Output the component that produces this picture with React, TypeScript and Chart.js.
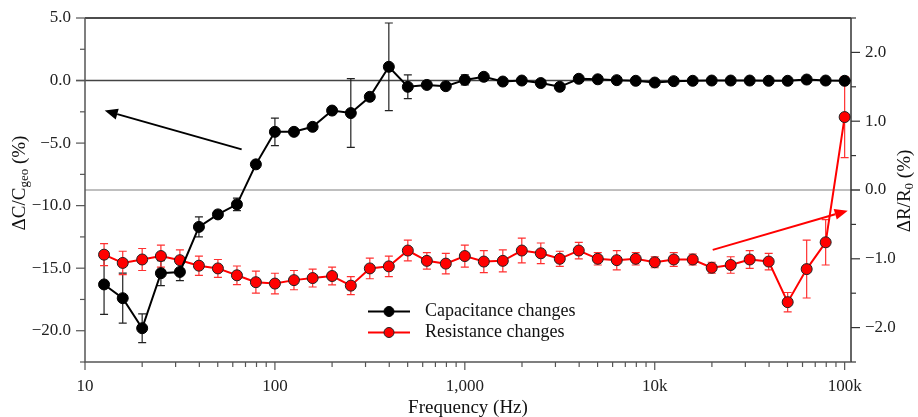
import React, { useEffect, useRef } from 'react';
import { Chart, registerables } from 'chart.js';

Chart.register(...registerables);

const frequencies = [12.6, 15.8, 20, 25.1, 31.6, 39.8, 50.1, 63.1, 79.4, 100, 126, 158, 200, 251, 316, 398, 501, 631, 794, 1000, 1259, 1585, 1995, 2512, 3162, 3981, 5012, 6310, 7943, 10000, 12589, 15849, 19953, 25119, 31623, 39811, 50119, 63096, 79433, 100000];

const capValues = [-16.3, -17.4, -19.8, -15.4, -15.3, -11.7, -10.7, -9.9, -6.7, -4.1, -4.1, -3.7, -2.4, -2.6, -1.3, 1.1, -0.5, -0.35, -0.45, 0.05, 0.3, -0.08, 0.0, -0.2, -0.5, 0.14, 0.1, 0.03, -0.02, -0.16, -0.05, -0.02, 0.0, 0.0, 0.0, -0.02, -0.02, 0.08, 0.0, -0.02];
const capErrors = [2.4, 2.0, 1.15, 1.0, 0.7, 0.8, 0.3, 0.5, 0.2, 1.1, 0.2, 0.2, 0.2, 2.75, 0.2, 3.5, 0.95, 0.2, 0.2, 0.4, 0.15, 0.15, 0.15, 0.15, 0.15, 0.15, 0.15, 0.15, 0.15, 0.15, 0.15, 0.15, 0.15, 0.15, 0.15, 0.15, 0.15, 0.15, 0.15, 0.15];

const resValues = [-0.94, -1.06, -1.01, -0.96, -1.02, -1.10, -1.14, -1.24, -1.34, -1.36, -1.31, -1.28, -1.25, -1.39, -1.14, -1.11, -0.88, -1.03, -1.07, -0.96, -1.04, -1.03, -0.88, -0.92, -1.0, -0.88, -1.0, -1.02, -1.0, -1.05, -1.01, -1.01, -1.13, -1.09, -1.01, -1.04, -1.63, -1.15, -0.76, 1.06];
const resErrors = [0.16, 0.17, 0.16, 0.16, 0.15, 0.14, 0.13, 0.135, 0.16, 0.15, 0.14, 0.13, 0.13, 0.13, 0.15, 0.15, 0.15, 0.12, 0.15, 0.16, 0.16, 0.16, 0.18, 0.15, 0.11, 0.12, 0.09, 0.14, 0.09, 0.08, 0.1, 0.08, 0.08, 0.12, 0.13, 0.12, 0.14, 0.42, 0.33, 0.59];

const xTickValues = [10, 100, 1000, 10000, 100000];
const xTickLabels = ['10', '100', '1,000', '10k', '100k'];
const seriesNames = ['Capacitance changes', 'Resistance changes'];

// annotation arrows, in data units
const capArrow = { from: [66.8, -5.5], to: [12.7, -2.4] };
const resArrow = { from: [20200, -0.87], to: [103800, -0.3] };

const FONT = "'Liberation Serif', 'Times New Roman', serif";

function drawArrow(ctx: CanvasRenderingContext2D, x1: number, y1: number, x2: number, y2: number, color: string) {
  const ang = Math.atan2(y2 - y1, x2 - x1);
  const hl = 13, hw = 5.5;
  const bx = x2 - hl * Math.cos(ang), by = y2 - hl * Math.sin(ang);
  ctx.save();
  ctx.strokeStyle = color;
  ctx.fillStyle = color;
  ctx.lineWidth = 2;
  ctx.beginPath();
  ctx.moveTo(x1, y1);
  ctx.lineTo(bx, by);
  ctx.stroke();
  ctx.beginPath();
  ctx.moveTo(x2, y2);
  ctx.lineTo(bx + hw * Math.sin(ang), by - hw * Math.cos(ang));
  ctx.lineTo(bx - hw * Math.sin(ang), by + hw * Math.cos(ang));
  ctx.closePath();
  ctx.fill();
  ctx.restore();
}

function drawRotatedTitle(ctx: CanvasRenderingContext2D, cx: number, cy: number, parts: { t: string; sub?: boolean }[]) {
  const mainFont = `19px ${FONT}`;
  const subFont = `13px ${FONT}`;
  ctx.save();
  ctx.translate(cx, cy);
  ctx.rotate(-Math.PI / 2);
  let total = 0;
  for (const p of parts) {
    ctx.font = p.sub ? subFont : mainFont;
    total += ctx.measureText(p.t).width;
  }
  let x = -total / 2;
  ctx.fillStyle = '#111';
  ctx.textBaseline = 'middle';
  ctx.textAlign = 'left';
  for (const p of parts) {
    ctx.font = p.sub ? subFont : mainFont;
    ctx.fillText(p.t, x, p.sub ? 5 : 0);
    x += ctx.measureText(p.t).width;
  }
  ctx.restore();
}

const decorPlugin = {
  id: 'decor',
  beforeDatasetsDraw(chart: any) {
    const { ctx, chartArea: a, scales } = chart;
    const xs = scales.x, yl = scales.y, yr = scales.y1;
    ctx.save();
    // zero lines
    const y0l = yl.getPixelForValue(0);
    ctx.strokeStyle = '#444';
    ctx.lineWidth = 1.5;
    ctx.beginPath();
    ctx.moveTo(a.left - 9, y0l);
    ctx.lineTo(a.right, y0l);
    ctx.stroke();
    const y0r = yr.getPixelForValue(0);
    ctx.strokeStyle = '#aaa';
    ctx.beginPath();
    ctx.moveTo(a.left, y0r);
    ctx.lineTo(a.right + 9, y0r);
    ctx.stroke();

    // frame
    ctx.lineWidth = 1.5;
    ctx.strokeStyle = '#111';
    ctx.beginPath();
    ctx.moveTo(a.left, a.top);
    ctx.lineTo(a.right, a.top);
    ctx.stroke();
    ctx.strokeStyle = '#333';
    ctx.beginPath();
    ctx.moveTo(a.right, a.top);
    ctx.lineTo(a.right, a.bottom);
    ctx.stroke();
    ctx.strokeStyle = '#555';
    ctx.beginPath();
    ctx.moveTo(a.left, a.top);
    ctx.lineTo(a.left, a.bottom);
    ctx.lineTo(a.right, a.bottom);
    ctx.stroke();

    // left ticks
    ctx.lineWidth = 1.2;
    ctx.strokeStyle = '#555';
    for (let v = -22.5; v <= 5.001; v += 2.5) {
      const y = yl.getPixelForValue(v);
      const major = Math.abs(v / 5 - Math.round(v / 5)) < 1e-6;
      ctx.beginPath();
      ctx.moveTo(a.left, y);
      ctx.lineTo(a.left - (major ? 9 : 5), y);
      ctx.stroke();
    }
    // right ticks
    ctx.strokeStyle = '#333';
    for (let v = -2.5; v <= 2.501; v += 0.5) {
      const y = yr.getPixelForValue(v);
      const major = Math.abs(v - Math.round(v)) < 1e-6;
      ctx.beginPath();
      ctx.moveTo(a.right, y);
      ctx.lineTo(a.right + (major ? 9 : 5), y);
      ctx.stroke();
    }
    // bottom ticks
    ctx.strokeStyle = '#555';
    for (let d = 10; d <= 100000; d *= 10) {
      for (let m = 1; m <= 9; m++) {
        const v = d * m;
        if (v > 100000) break;
        const x = xs.getPixelForValue(v);
        ctx.beginPath();
        ctx.moveTo(x, a.bottom);
        ctx.lineTo(x, a.bottom + (m === 1 ? 8 : 5));
        ctx.stroke();
      }
    }

    // error bars
    const bars = [
      { vals: capValues, errs: capErrors, scale: yl, color: '#222' },
      { vals: resValues, errs: resErrors, scale: yr, color: '#ff3030' },
    ];
    for (const b of bars) {
      ctx.strokeStyle = b.color;
      ctx.lineWidth = 1.2;
      frequencies.forEach((f, i) => {
        const x = xs.getPixelForValue(f);
        const yt = b.scale.getPixelForValue(b.vals[i] + b.errs[i]);
        const yb = b.scale.getPixelForValue(b.vals[i] - b.errs[i]);
        ctx.beginPath();
        ctx.moveTo(x, yt);
        ctx.lineTo(x, yb);
        ctx.moveTo(x - 4, yt);
        ctx.lineTo(x + 4, yt);
        ctx.moveTo(x - 4, yb);
        ctx.lineTo(x + 4, yb);
        ctx.stroke();
      });
    }
    ctx.restore();
  },
  afterDraw(chart: any) {
    const { ctx, chartArea: a, scales } = chart;
    const xs = scales.x, yl = scales.y, yr = scales.y1;

    // arrows
    drawArrow(ctx, xs.getPixelForValue(capArrow.from[0]), yl.getPixelForValue(capArrow.from[1]),
      xs.getPixelForValue(capArrow.to[0]), yl.getPixelForValue(capArrow.to[1]), '#000');
    drawArrow(ctx, xs.getPixelForValue(resArrow.from[0]), yr.getPixelForValue(resArrow.from[1]),
      xs.getPixelForValue(resArrow.to[0]), yr.getPixelForValue(resArrow.to[1]), '#ff0000');

    // titles
    ctx.save();
    ctx.fillStyle = '#111';
    ctx.font = `19px ${FONT}`;
    ctx.textAlign = 'center';
    ctx.textBaseline = 'middle';
    ctx.fillText('Frequency (Hz)', (a.left + a.right) / 2, 408);
    ctx.restore();
    drawRotatedTitle(ctx, 20, 183, [{ t: '\u0394C/C' }, { t: 'geo', sub: true }, { t: ' (%)' }]);
    drawRotatedTitle(ctx, 905, 191, [{ t: '\u0394R/R' }, { t: '0', sub: true }, { t: ' (%)' }]);

    // legend
    const rows = [
      { name: seriesNames[0], line: '#000', fill: '#000', border: '#000', y: 311.5 },
      { name: seriesNames[1], line: '#ff0000', fill: '#ff0000', border: '#222', y: 332.5 },
    ];
    ctx.save();
    for (const r of rows) {
      ctx.strokeStyle = r.line;
      ctx.lineWidth = 2;
      ctx.beginPath();
      ctx.moveTo(368, r.y);
      ctx.lineTo(410, r.y);
      ctx.stroke();
      ctx.beginPath();
      ctx.arc(389, r.y, 5, 0, Math.PI * 2);
      ctx.fillStyle = r.fill;
      ctx.fill();
      ctx.strokeStyle = r.border;
      ctx.lineWidth = 1;
      ctx.stroke();
      ctx.fillStyle = '#111';
      ctx.font = `18px ${FONT}`;
      ctx.textAlign = 'left';
      ctx.textBaseline = 'middle';
      ctx.fillText(r.name, 425, r.y);
    }
    ctx.restore();
  },
};

export default function App() {
  const ref = useRef<HTMLCanvasElement | null>(null);
  useEffect(() => {
    if (!ref.current) return;
    const tickFont = { family: FONT, size: 17 };
    const chart = new Chart(ref.current, {
      type: 'line',
      data: {
        datasets: [
          {
            label: seriesNames[0],
            data: frequencies.map((f, i) => ({ x: f, y: capValues[i] })),
            yAxisID: 'y',
            borderColor: '#000',
            borderWidth: 2,
            pointRadius: 5.5,
            pointBackgroundColor: '#000',
            pointBorderColor: '#000',
            pointBorderWidth: 1,
            tension: 0,
          },
          {
            label: seriesNames[1],
            data: frequencies.map((f, i) => ({ x: f, y: resValues[i] })),
            yAxisID: 'y1',
            borderColor: '#ff0000',
            borderWidth: 2,
            pointRadius: 5.5,
            pointBackgroundColor: '#ff0000',
            pointBorderColor: '#222',
            pointBorderWidth: 1,
            tension: 0,
          },
        ],
      },
      options: {
        responsive: false,
        animation: false,
        layout: { padding: { top: 18, left: 0, right: 0, bottom: 0 } },
        plugins: { legend: { display: false }, tooltip: { enabled: false } },
        scales: {
          x: {
            type: 'logarithmic',
            position: 'bottom',
            min: 10,
            max: 108000,
            border: { display: false },
            grid: { display: true, drawOnChartArea: false, color: 'transparent', tickLength: 8 },
            afterBuildTicks: (s: any) => {
              s.ticks = xTickValues.map((v) => ({ value: v }));
            },
            afterFit: (s: any) => {
              s.height = 55;
            },
            ticks: {
              autoSkip: false,
              maxRotation: 0,
              minRotation: 0,
              padding: 6,
              color: '#222',
              font: tickFont,
              callback: (v: any) => {
                const i = xTickValues.indexOf(Number(v));
                return i >= 0 ? xTickLabels[i] : '';
              },
            },
          },
          y: {
            position: 'left',
            min: -22.5,
            max: 5,
            border: { display: false },
            grid: { display: true, drawOnChartArea: false, color: 'transparent', tickLength: 9 },
            afterFit: (s: any) => {
              s.width = 85;
            },
            ticks: {
              stepSize: 2.5,
              padding: 5,
              color: '#222',
              font: tickFont,
              callback: (v: any) => {
                const n = Number(v);
                if (Math.abs(n / 5 - Math.round(n / 5)) > 1e-6) return '';
                return n.toFixed(1).replace('-', '\u2212');
              },
            },
          },
          y1: {
            position: 'right',
            min: -2.5,
            max: 2.5,
            border: { display: false },
            grid: { display: true, drawOnChartArea: false, color: 'transparent', tickLength: 9 },
            afterFit: (s: any) => {
              s.width = 67;
            },
            ticks: {
              stepSize: 0.5,
              padding: 5,
              color: '#222',
              font: tickFont,
              callback: (v: any) => {
                const n = Number(v);
                if (Math.abs(n - Math.round(n)) > 1e-6) return '';
                return n.toFixed(1).replace('-', '\u2212');
              },
            },
          },
        },
      } as any,
      plugins: [decorPlugin],
    });
    return () => chart.destroy();
  }, []);

  return (
    <div style={{ position: 'absolute', left: 0, top: 0, width: 918, height: 417, background: '#fff' }}>
      <canvas ref={ref} width={918} height={417} style={{ display: 'block' }} />
    </div>
  );
}
